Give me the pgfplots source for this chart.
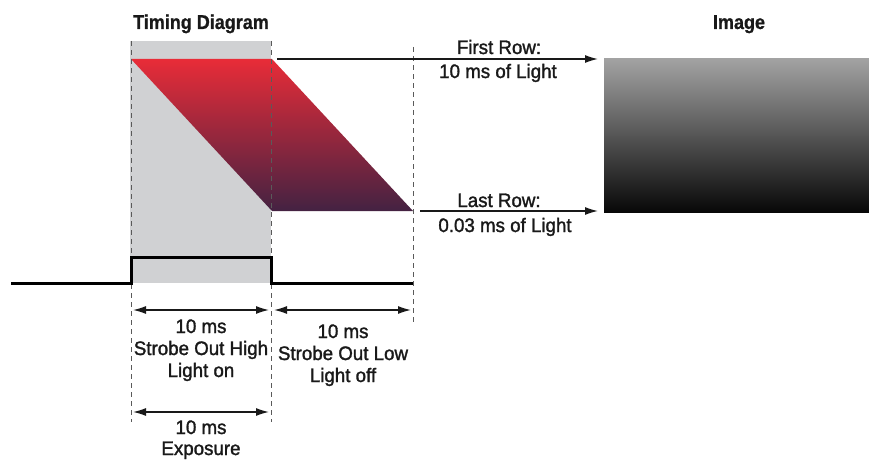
\documentclass[border=0pt]{standalone}
\usepackage{pgfplots}
\pgfplotsset{compat=1.18}
\usepackage{fontspec}
\setmainfont{Liberation Sans}
\newfontfamily\bodyfont{Liberation Sans}[FakeStretch=0.96, FakeBold=1.5]
\newfontfamily\headfont{Liberation Sans Bold}[FakeStretch=0.9, FakeBold=0.8]
\usetikzlibrary{arrows.meta}
\definecolor{rectgray}{RGB}{208,209,211}
\definecolor{redtop}{RGB}{232,44,56}
\definecolor{purplebot}{RGB}{68,34,66}
\definecolor{imgtop}{RGB}{162,162,162}
\definecolor{imgbot}{RGB}{8,8,8}
\definecolor{dashgray}{RGB}{90,90,90}
\definecolor{txt}{RGB}{25,25,25}
\begin{document}
\begin{tikzpicture}
\begin{axis}[width=869pt, height=460pt, scale only axis,
  xmin=0, xmax=869, ymin=0, ymax=460, y dir=reverse,
  hide axis, clip=false]
% bounding frame (invisible)
\addplot[draw=none, mark=none] coordinates {(0,0) (869,460)};
% grey exposure window
\addplot[draw=none, fill=rectgray] coordinates {(130,41) (271,41) (271,283) (130,283)} -- cycle;
% light parallelogram
\addplot[draw=none, top color=redtop, bottom color=purplebot] coordinates {(131,59) (272,59) (413,211) (272,211)} -- cycle;
% image
\addplot[draw=none, top color=imgtop, bottom color=imgbot] coordinates {(604,59) (869,59) (869,212) (604,212)} -- cycle;
% dashed guides
\addplot[dashgray, line width=1pt, dash pattern=on 5pt off 4pt] coordinates {(131,41) (131,422)};
\addplot[dashgray, line width=1pt, dash pattern=on 5pt off 4pt] coordinates {(271,41) (271,422)};
\addplot[dashgray, line width=1pt, dash pattern=on 5pt off 4pt] coordinates {(413,47) (413,325)};
% strobe signal
\addplot[black, line width=3pt, line join=miter] coordinates {(11,283) (131,283) (131,257) (271,257) (271,283) (413,283)};
% row arrows
\addplot[txt, line width=1.3pt, -{Latex[length=13pt,width=8pt]}] coordinates {(277,59) (598,59)};
\addplot[txt, line width=1.3pt, -{Latex[length=13pt,width=8pt]}] coordinates {(420,211) (598,211)};
% dimension arrows
\addplot[txt, line width=1.3pt, {Latex[length=13pt,width=8pt]}-{Latex[length=13pt,width=8pt]}] coordinates {(133,310) (269,310)};
\addplot[txt, line width=1.3pt, {Latex[length=13pt,width=8pt]}-{Latex[length=13pt,width=8pt]}] coordinates {(274,310) (411,310)};
\addplot[txt, line width=1.3pt, {Latex[length=13pt,width=8pt]}-{Latex[length=13pt,width=8pt]}] coordinates {(133,412) (269,412)};
% text
\begin{scope}[every node/.style={anchor=base, text=txt, inner sep=0pt, font=\bodyfont\fontsize{19.5}{22}\selectfont}]
\node[font=\headfont\fontsize{20}{22}\selectfont] at (axis cs:201,29) {Timing Diagram};
\node[font=\headfont\fontsize{20}{22}\selectfont] at (axis cs:739,29) {Image};
\node at (axis cs:499,54) {First Row:};
\node at (axis cs:498,78) {10 ms of Light};
\node at (axis cs:499,207) {Last Row:};
\node at (axis cs:505,232) {0.03 ms of Light};
\node at (axis cs:201,333) {10 ms};
\node at (axis cs:201,355) {Strobe Out High};
\node at (axis cs:201,377) {Light on};
\node at (axis cs:343,338) {10 ms};
\node at (axis cs:343,360) {Strobe Out Low};
\node at (axis cs:343,382) {Light off};
\node at (axis cs:201,434) {10 ms};
\node at (axis cs:201,455) {Exposure};
\end{scope}
\end{axis}
\end{tikzpicture}
\end{document}
